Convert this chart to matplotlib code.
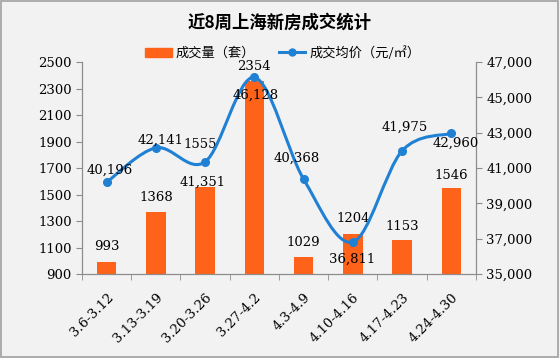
import numpy as np
import matplotlib
matplotlib.use("Agg")
import matplotlib.pyplot as plt
from matplotlib.path import Path
from matplotlib.patches import PathPatch, Patch, Rectangle
from matplotlib.lines import Line2D

plt.rcParams['font.family'] = ['DejaVu Serif', 'Noto Sans CJK SC']

weeks = ['3.6-3.12', '3.13-3.19', '3.20-3.26', '3.27-4.2',
         '4.3-4.9', '4.10-4.16', '4.17-4.23', '4.24-4.30']
volume = [993, 1368, 1555, 2354, 1029, 1204, 1153, 1546]
price = [40196, 42141, 41351, 46128, 40368, 36811, 41975, 42960]

# label offsets in pixels (dx, dy), tuned by eye
vol_off = [(0, 15), (0, 15), (-5, 43), (0, 15), (0, 14), (0, 15), (0, 14), (0, 13)]
price_off = [(3, 12), (5, 8), (-2, -20), (1, -18), (-7, 21), (-1, -17), (3, 24), (4, -10)]

orange = '#ff6319'
blue = '#1f80d4'
bg = '#f2f2f2'
grey = '#8c8c8c'
cjk = ['Noto Sans CJK SC', 'DejaVu Sans']
fs = 9.5

fig = plt.figure(figsize=(5.6, 3.58), dpi=100, facecolor=bg)
fig.patches.append(Rectangle((0.002, 0.003), 0.995, 0.994, transform=fig.transFigure,
                             fill=False, edgecolor='#a0a0a0', lw=1.2))
ax = fig.add_axes([0.1464, 0.2346, 0.7036, 0.5922])
ax.set_facecolor('none')
ax2 = ax.twinx()

x = np.arange(len(weeks))
ax.bar(x, volume, width=0.4, color=orange, zorder=2)
ax.set_ylim(900, 2500)
ax.set_yticks(range(900, 2501, 200))
ax.set_xlim(-0.5, len(weeks) - 0.5)
ax.set_xticks(x)
ax.set_xticklabels(weeks, rotation=45, ha='right', rotation_mode='anchor', fontsize=fs)
ax.set_xticks(np.arange(-0.5, len(weeks), 1), minor=True)
ax.tick_params(axis='x', which='major', length=0, pad=12)
ax.tick_params(axis='x', which='minor', length=4, color=grey)
ax.tick_params(axis='y', length=4, color=grey, labelsize=fs)

ax2.set_ylim(35000, 47000)
ax2.set_yticks(range(35000, 47001, 2000))
ax2.set_yticklabels([f'{v:,}' for v in range(35000, 47001, 2000)], fontsize=fs)
ax2.tick_params(axis='y', length=4, color=grey)

for a in (ax, ax2):
    a.spines['top'].set_visible(False)
    for s in ('left', 'right', 'bottom'):
        a.spines[s].set_color(grey)

# smooth line through the points (Catmull-Rom as cubic Bezier)
pts = np.column_stack([x, price]).astype(float)
verts = [tuple(pts[0])]
codes = [Path.MOVETO]
n = len(pts)
for i in range(n - 1):
    p0 = pts[i - 1] if i > 0 else pts[i]
    p1 = pts[i]
    p2 = pts[i + 1]
    p3 = pts[i + 2] if i + 2 < n else pts[i + 1]
    c1 = p1 + (p2 - p0) / 6.0
    c2 = p2 - (p3 - p1) / 6.0
    verts += [tuple(c1), tuple(c2), tuple(p2)]
    codes += [Path.CURVE4] * 3
ax2.add_patch(PathPatch(Path(verts, codes), fill=False, edgecolor=blue, lw=2.2, zorder=3))
ax2.plot(x, price, 'o', color=blue, ms=5.5, zorder=4)

for i in range(n):
    ax.annotate(str(volume[i]), (x[i], volume[i]), xytext=vol_off[i],
                textcoords='offset pixels', ha='center', va='center', fontsize=fs, zorder=5)
    ax2.annotate(f'{price[i]:,}', (x[i], price[i]), xytext=price_off[i],
                 textcoords='offset pixels', ha='center', va='center', fontsize=fs, zorder=5)

fig.text(0.5, 0.936, '近8周上海新房成交统计', ha='center', va='center',
         fontsize=12.5, fontweight='bold', family=cjk)

handles = [Patch(color=orange),
           Line2D([], [], color=blue, lw=2.2, marker='o', ms=5)]
fig.legend(handles, ['成交量（套）', '成交均价（元/㎡）'], loc='center',
           bbox_to_anchor=(0.505, 0.852), ncol=2, frameon=False, handlelength=2.0,
           columnspacing=1.8, handletextpad=0.3,
           prop={'family': cjk, 'size': 9.5})

fig.savefig('out.png', dpi=100, facecolor=bg)
